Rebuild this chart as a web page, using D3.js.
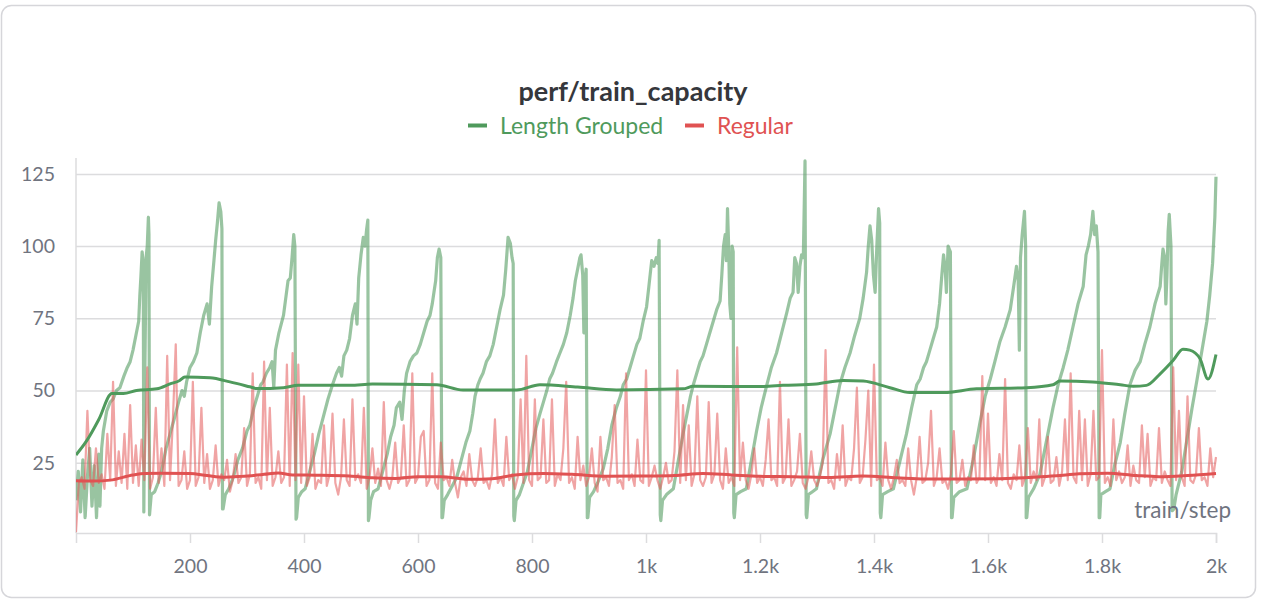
<!DOCTYPE html>
<html>
<head>
<meta charset="utf-8">
<script src="https://cdn.jsdelivr.net/npm/d3@7"></script>
<style>
  html, body { margin: 0; padding: 0; background: #fff; }
  svg { display: block; }
  text { font-family: Lato, "Noto Sans", sans-serif; }
</style>
</head>
<body>
<svg id="chart" width="1262" height="608"></svg>
<script>
// ---------------- DATA ----------------
const chartTitle = "perf/train_capacity";
const seriesNames = ["Length Grouped", "Regular"];
const xTickValues = [200, 400, 600, 800, 1000, 1200, 1400, 1600, 1800, 2000];
const xTickLabels = ["200", "400", "600", "800", "1k", "1.2k", "1.4k", "1.6k", "1.8k", "2k"];
const yTickValues = [25, 50, 75, 100, 125];
const xAxisLabel = "train/step";

// Length Grouped raw (step, value)
const greenRawSteps = [
  0,4,8,12,16,20,24,28,32,36,40,42,45,48,54,60,65,71,77,84,90,95,100,106,110,112,114,116,118,119,121,123,125,127,128,
  129,132,138,144,150,158,165,172,180,186,190,194,200,206,212,218,224,230,234,238,242,245,248,251,254,256,
  257,258,262,268,276,284,292,300,305,312,318,324,328,334,340,344,347,350,356,360,364,368,372,376,379,382,384,
  386,387,390,396,402,410,418,426,434,442,450,457,462,466,470,475,480,485,490,493,496,500,504,507,510,512,
  513,514,517,522,530,538,546,552,558,562,568,572,576,580,586,592,598,604,610,616,621,625,628,631,634,637,640,
  642,643,646,652,660,668,676,684,691,696,700,705,709,714,720,726,732,738,744,750,754,758,762,765,767,
  768,769,772,778,785,792,800,807,814,820,826,831,836,843,849,855,861,867,872,876,880,884,886,889,891,893,895,
  897,898,901,908,915,925,933,940,948,955,960,966,972,978,984,989,995,1001,1005,1010,1014,1018,1021,1023,
  1025,1026,1029,1036,1048,1056,1065,1072,1078,1083,1089,1095,1100,1106,1112,1118,1124,1130,1133,1136,1139,1141,1143,1145,1147,1149,1151,1153,
  1154,1155,1158,1166,1176,1185,1194,1202,1212,1220,1229,1238,1247,1253,1258,1261,1264,1267,1270,1273,1276,1279,
  1281,1282,1285,1292,1299,1310,1323,1332,1340,1349,1358,1366,1375,1381,1387,1390,1393,1396,1399,1402,1405,1408,1410,
  1411,1412,1415,1424,1434,1446,1457,1466,1475,1481,1487,1492,1498,1504,1510,1515,1519,1522,1525,1527,1530,1532,1534,
  1536,1537,1540,1550,1563,1574,1586,1595,1604,1612,1621,1630,1639,1645,1650,1653,1655,1657,1660,1664,1666,
  1667,1668,1671,1680,1691,1702,1714,1723,1732,1740,1749,1758,1767,1772,1776,1780,1784,1787,1790,1793,
  1795,1796,1798,1806,1814,1822,1832,1840,1849,1858,1867,1875,1884,1893,1902,1905,1907,1910,1912,1914,1916,1918,1921,
  1923,1926,1930,1940,1949,1958,1966,1972,1978,1984,1989,1994,1998,2000
];
const greenRawValues = [
  12,22,8,26,6,20,30,10,24,6,28,10,30,36,43,46,47,50,51,55,58,60,64,70,74,83,90,98,94,8,60,96,100,110,104,
  7,14,15,18,22,30,35,40,46,50,48,53,58,60,63,70,76,80,73,86,95,102,108,115,112,106,
  9,9,14,16,20,26,30,36,38,44,48,52,53,56,58,60,51,64,70,73,76,82,88,89,96,104,100,
  5.5,6,13,15,16,22,28,35,41,47,52,56,58,55,62,64,68,76,80,73,89,97,103,100,106,109,
  5,6,12,15,16,22,28,34,38,44,46,40,50,56,60,62,63,66,70,74,76,80,84,88,96,99,96,
  6,6,12,14,17,20,26,32,36,42,48,52,54,56,60,62,66,72,78,83,92,103,101,96,94,
  6.6,5,12,14,18,22,30,37,42,46,50,54,56,60,63,66,70,76,82,88,92,96,97,90,70,88,92,
  6,6,13,15,18,23,30,38,44,48,52,54,58,62,66,68,74,79,86,95,93,96,94,102,
  7,5,12,14,16,25,35,42,48,52,56,60,62,66,70,74,78,81,90,100,104,95,113,100,80,75,100,98,
  7.6,6,14,15,16,26,36,44,52,58,63,70,77,82,84,96,94,84,93,97,96,129.5,
  7,6,14,15,16,26,35,44,52,58,63,69,75,82,91,100,107,102,90,84,100,113,108,
  7.6,6,14,15,16,26,35,44,52,54,58,60,64,68,72,80,90,97,92,84,100,99,98,
  6,6,13,15,16,26,39,48,54,60,67,72,78,86,93,88,64,96,104,112,100,
  6,6,13,16,21,32,44,52,58,64,72,80,86,97,100,104,112,104,107,98,
  6,6,14,15,16,24,32,42,52,57,60,66,72,80,86,94,99,96,80,90,105,111,100,
  8.4,9,14,22,33,44,53,60,67,74,83,94,110,124
];

// Length Grouped smoothed (step, value)
const greenSmoothSteps = [0,20,40,63,83,106,142,165,182,191,235,270,305,317,364,390,481,520,633,679,773,814,880,948,1065,1083,1206,1240,1299,1346,1381,1428,1463,1522,1580,1668,1714,1726,1784,1832,1855,1878,1902,1925,1942,1954,1972,1986,2000];
const greenSmoothValues = [27.7,33,40,49,49,50,50.6,52.3,53.5,54.7,54.4,53,51.3,50.7,51,51.8,51.8,52.3,52,50.2,50.2,52,51.2,50.2,50.6,51.5,51.4,51.8,52.3,53.5,53.3,51,49.3,49.3,50.6,51,52,53.3,53,52,51.5,51.8,55.8,60.5,64.3,64,61,54,62.5];

// Regular raw, one value every 5 steps (step 0 .. 2000)
const redRawStepSize = 5;
const redRawValues = [
  1,18,20,16,43,19,17,30,18,21,16,35,19,53,17,29,18,35,16,45,
  18,31,17,33,19,58,16,20,44,18,30,17,62,19,40,66,17,19,29,16,
  19,53,17,20,44,18,28,16,19,31,17,21,19,26,15,19,28,18,20,37,
  17,21,56,18,20,16,60,19,44,17,20,29,18,20,59,17,63,19,59,18,
  48,17,20,35,16,19,18,38,17,21,42,18,14,20,40,19,17,47,19,21,
  18,44,16,20,30,18,23,17,46,19,16,20,32,18,20,38,17,19,56,18,
  20,34,36,17,19,56,18,16,32,19,20,17,26,18,13,20,22,17,28,19,
  17,20,30,18,19,16,21,40,18,20,17,34,19,21,16,20,47,18,62,19,
  17,47,19,20,40,18,19,47,17,21,19,30,53,18,20,16,34,19,24,17,
  20,30,18,15,34,19,20,17,27,45,18,19,16,56,19,21,17,33,19,18,
  57,17,20,24,19,16,20,25,18,19,29,57,18,45,19,38,17,21,48,19,
  17,20,46,18,21,42,19,16,30,18,20,17,65,19,32,19,16,21,30,18,
  20,17,26,40,19,20,17,53,18,20,40,17,19,22,35,18,16,20,29,19,
  17,20,25,64,18,19,16,28,19,38,17,20,19,30,51,18,20,33,50,17,
  59,19,20,17,32,19,16,20,26,18,19,17,30,19,14,20,34,18,19,25,
  43,17,20,30,18,19,16,21,36,18,19,26,17,20,19,31,18,20,55,19,
  42,18,20,17,28,19,54,18,16,21,19,31,17,20,37,18,22,19,40,17,
  20,34,18,19,27,17,22,40,19,56,20,18,43,19,40,17,21,43,19,20,
  64,18,20,17,40,19,22,18,20,31,17,24,19,18,38,20,35,17,20,19,
  37,18,22,19,17,58,19,43,20,17,48,19,18,21,37,19,20,17,30,20,
  27
];

// Regular smoothed (step, value)
const redSmoothSteps = [0,30,60,100,120,150,200,230,260,290,330,355,380,420,480,520,560,600,640,690,730,770,820,870,930,990,1050,1100,1150,1200,1260,1320,1380,1440,1490,1560,1620,1680,1720,1760,1810,1860,1900,1950,2000];
const redSmoothValues = [18.8,18.7,19,20.8,21.3,21.4,21.3,20.6,20,20.3,21,21.5,20.8,20.7,20.4,19.8,19.6,20.2,20.2,19.3,19.5,20.8,21.3,21,20.3,20.4,20.6,21.3,20.8,20.3,20.2,19.9,20.4,19.8,19.4,19.4,19.5,20,20.5,21.2,21.4,20.6,20.2,20.6,21.3];

// ---------------- CHART ----------------
const svg = d3.select("#chart");
const plot = { left: 76, right: 1216, top: 158, bottom: 533 };

const colors = {
  green: "#4f9a5c",
  greenRaw: "#5a9f67",
  red: "#e05252",
  redRaw: "#e35a5a",
  grid: "#dcdcde",
  tick: "#70747f",
  title: "#35373c"
};

// card
svg.append("rect")
  .attr("x", 1.5).attr("y", 5.5)
  .attr("width", 1254).attr("height", 592)
  .attr("rx", 10).attr("ry", 10)
  .attr("fill", "#fff")
  .attr("stroke", "#d6d6da")
  .attr("stroke-width", 1.5);

const x = d3.scaleLinear().domain([0, 2000]).range([plot.left, plot.right]);
const y = d3.scaleLinear().domain([0.7, 130.5]).range([plot.bottom, plot.top]);

// grid + y labels
const yAxis = d3.axisLeft(y).tickValues(yTickValues).tickSize(-(plot.right - plot.left)).tickPadding(20).tickFormat(d3.format("d"));
const gy = svg.append("g").attr("transform", `translate(${plot.left},0)`).call(yAxis);
gy.select(".domain").remove();
gy.selectAll(".tick line").attr("stroke", colors.grid).attr("stroke-width", 1.5);
gy.selectAll(".tick text").attr("fill", colors.tick).style("font-size", "19.5px").attr("x", -21);

// left axis line
svg.append("line")
  .attr("x1", plot.left).attr("x2", plot.left)
  .attr("y1", plot.top).attr("y2", plot.bottom)
  .attr("stroke", colors.grid).attr("stroke-width", 1.5);

// x axis
const xAxis = d3.axisBottom(x).tickValues(xTickValues).tickSize(10).tickPadding(12)
  .tickFormat((d, i) => xTickLabels[i]);
const gx = svg.append("g").attr("transform", `translate(0,${plot.bottom})`).call(xAxis);
gx.select(".domain").attr("stroke", colors.grid).attr("stroke-width", 1.5);
gx.selectAll(".tick line").attr("stroke", colors.grid).attr("stroke-width", 1.5);
gx.selectAll(".tick text").attr("fill", colors.tick).style("font-size", "19.5px")
  .attr("y", 40).attr("dy", 0);

// clip
svg.append("clipPath").attr("id", "clip")
  .append("rect").attr("x", plot.left).attr("y", plot.top - 2)
  .attr("width", plot.right - plot.left + 2).attr("height", plot.bottom - plot.top + 2);

const line = d3.line().x(d => x(d[0])).y(d => y(d[1]));
const smoothLine = d3.line().x(d => x(d[0])).y(d => y(d[1])).curve(d3.curveMonotoneX);

const greenRaw = greenRawSteps.map((s, i) => [s, greenRawValues[i]]);
const greenSmooth = greenSmoothSteps.map((s, i) => [s, greenSmoothValues[i]]);
const redRaw = redRawValues.map((v, i) => [i * redRawStepSize, v]);
const redSmooth = redSmoothSteps.map((s, i) => [s, redSmoothValues[i]]);

const g = svg.append("g").attr("clip-path", "url(#clip)");

g.append("path").datum(greenRaw).attr("d", line)
  .attr("fill", "none").attr("stroke", colors.greenRaw)
  .attr("stroke-opacity", 0.62).attr("stroke-width", 3.2).attr("stroke-linejoin", "round");

g.append("path").datum(redRaw).attr("d", line)
  .attr("fill", "none").attr("stroke", colors.redRaw)
  .attr("stroke-opacity", 0.55).attr("stroke-width", 2.2).attr("stroke-linejoin", "round");

g.append("path").datum(greenSmooth).attr("d", smoothLine)
  .attr("fill", "none").attr("stroke", colors.green)
  .attr("stroke-width", 3).attr("stroke-linejoin", "round");

g.append("path").datum(redSmooth).attr("d", smoothLine)
  .attr("fill", "none").attr("stroke", colors.red)
  .attr("stroke-width", 3).attr("stroke-linejoin", "round");

// axis label
svg.append("text")
  .attr("x", 1231).attr("y", 518)
  .attr("text-anchor", "end")
  .attr("fill", colors.tick)
  .style("font-size", "22.5px")
  .text(xAxisLabel);

// title
svg.append("text")
  .attr("x", 633).attr("y", 101)
  .attr("text-anchor", "middle")
  .attr("fill", colors.title)
  .style("font-size", "27px").style("font-weight", "700")
  .text(chartTitle);

// legend
const legendItems = [
  { name: seriesNames[0], color: colors.green, x: 468 },
  { name: seriesNames[1], color: colors.red, x: 685 }
];
const lg = svg.append("g");
legendItems.forEach(it => {
  lg.append("line")
    .attr("x1", it.x).attr("x2", it.x + 19)
    .attr("y1", 125.5).attr("y2", 125.5)
    .attr("stroke", it.color).attr("stroke-width", 4);
  lg.append("text")
    .attr("x", it.x + 32).attr("y", 134)
    .attr("fill", it.color)
    .style("font-size", "23px")
    .text(it.name);
});
</script>
</body>
</html>
